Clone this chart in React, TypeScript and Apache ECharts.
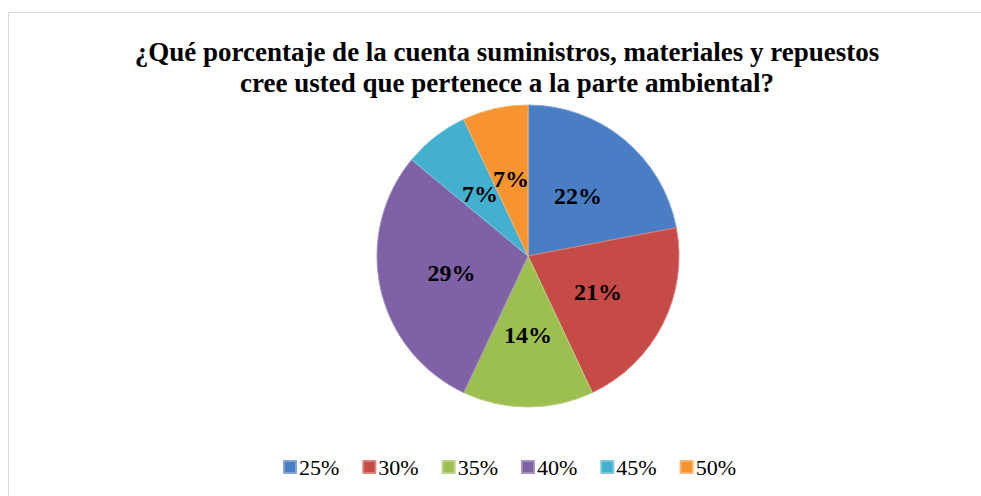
import React, { useEffect, useRef } from "react";
import * as echarts from "echarts";

const categories = ["25%", "30%", "35%", "40%", "45%", "50%"];
const values = [22, 21, 14, 29, 7, 7];
const colors = ["#4a7ec4", "#c64a46", "#9dbf50", "#7f62a6", "#43b0cf", "#f7942f"];
const titleLines = [
  "¿Qué porcentaje de la cuenta suministros, materiales y repuestos",
  "cree usted que pertenece a la parte ambiental?",
];

function shade(hex: string, f: number): string {
  const n = parseInt(hex.slice(1), 16);
  let r = (n >> 16) & 255, g = (n >> 8) & 255, b = n & 255;
  const adj = (c: number) =>
    Math.round(f >= 0 ? c + (255 - c) * f : c * (1 + f));
  r = adj(r); g = adj(g); b = adj(b);
  return "#" + ((1 << 24) | (r << 16) | (g << 8) | b).toString(16).slice(1);
}

export default function App() {
  const ref = useRef<HTMLDivElement>(null);
  useEffect(() => {
    if (!ref.current) return;
    const chart = echarts.init(ref.current, undefined, { renderer: "svg" });
    const serif = "'Liberation Serif', 'Times New Roman', serif";
    chart.setOption({
      animation: false,
      backgroundColor: "#ffffff",
      title: {
        text: titleLines.join("\n"),
        left: 502,
        textAlign: "center",
        top: 31,
        textStyle: {
          fontFamily: serif,
          fontWeight: "bold",
          fontSize: 27,
          lineHeight: 31,
          color: "#000000",
        },
      },
      legend: {
        data: categories,
        left: 278,
        top: 451,
        itemWidth: 12,
        itemHeight: 12,
        itemGap: 23,
        icon: "rect",
        textStyle: {
          fontFamily: serif,
          fontSize: 22,
          color: "#000000",
          padding: [0, 0, 0, -2],
        },
      },
      graphic: [
        {
          type: "rect",
          shape: { x: 8.5, y: 12.5, width: 1200, height: 800 },
          style: { fill: "none", stroke: "#d9d9d9", lineWidth: 1 },
          silent: true,
        },
      ],
      series: [
        {
          type: "pie",
          center: [528, 256],
          radius: [0, 151],
          startAngle: 90,
          clockwise: true,
          labelLayout: { hideOverlap: false },
          label: {
            show: true,
            position: "inside",
            formatter: (p: any) => Math.round(p.percent) + "%",
            fontFamily: serif,
            fontWeight: "bold",
            fontSize: 24,
            color: "#000000",
          },
          labelLine: { show: false },
          emphasis: { disabled: true },
          data: categories.map((c, i) => ({
            name: c,
            value: values[i],
            itemStyle: {
              color: colors[i],
              borderColor: shade(colors[i], 0.3),
              borderWidth: 1,
            },
          })),
        },
      ],
    });
    return () => chart.dispose();
  }, []);
  return (
    <div
      ref={ref}
      style={{ position: "fixed", left: 0, top: 0, width: 981, height: 496 }}
    />
  );
}
